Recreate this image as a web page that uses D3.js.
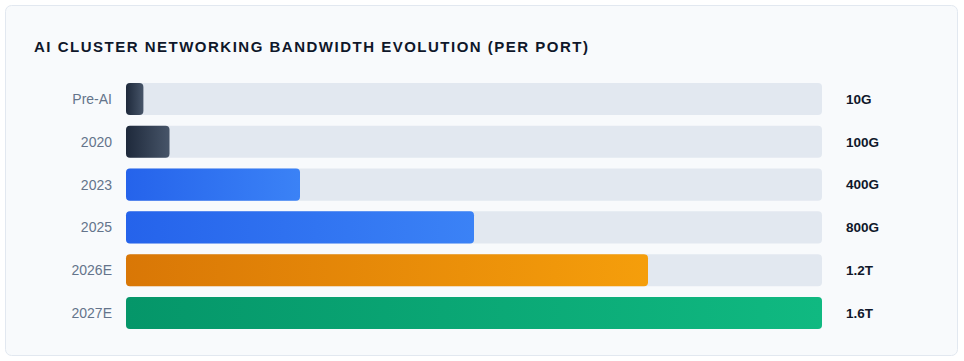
<!DOCTYPE html>
<meta charset="utf-8">
<style>
    body {
        margin: 0;
        background: #ffffff;
        font-family: "Liberation Sans", Arial, sans-serif;
    }
    svg {
        display: block;
    }
</style>

<body>
<div id="chart"></div>
<script src="https://cdnjs.cloudflare.com/ajax/libs/d3/7.8.5/d3.min.js"></script>
<script>
    // data
    var periods = ["Pre-AI", "2020", "2023", "2025", "2026E", "2027E"];
    var bandwidthGbps = [10, 100, 400, 800, 1200, 1600];
    var valueLabels = ["10G", "100G", "400G", "800G", "1.2T", "1.6T"];
    var colorGroups = ["slate", "slate", "blue", "blue", "amber", "green"];

    var palette = {
        slate: ["#1e293b", "#475569"],
        blue: ["#2563eb", "#3b82f6"],
        amber: ["#d97706", "#f59e0b"],
        green: ["#059669", "#10b981"]
    };

    var width = 964,
        height = 361;

    var svg = d3.select("#chart").append("svg")
        .attr("width", width)
        .attr("height", height);

    // gradients, one per colour group
    var defs = svg.append("defs");
    Object.keys(palette).forEach(function(k) {
        var g = defs.append("linearGradient")
            .attr("id", "grad-" + k)
            .attr("x1", "0%").attr("x2", "100%")
            .attr("y1", "0%").attr("y2", "0%");
        g.append("stop").attr("offset", "0%").attr("stop-color", palette[k][0]);
        g.append("stop").attr("offset", "100%").attr("stop-color", palette[k][1]);
    });

    // card
    svg.append("rect")
        .attr("x", 5.5).attr("y", 5.5)
        .attr("width", 952).attr("height", 350)
        .attr("rx", 6)
        .attr("fill", "#f8fafc")
        .attr("stroke", "#e2e8f0");

    svg.append("text")
        .attr("x", 34).attr("y", 52)
        .attr("fill", "#0f172a")
        .style("font-size", "15px")
        .style("font-weight", "700")
        .style("letter-spacing", "1.5px")
        .text("AI CLUSTER NETWORKING BANDWIDTH EVOLUTION (PER PORT)");

    var x = d3.scaleLinear()
        .domain([0, d3.max(bandwidthGbps)])
        .range([126, 822]);

    var y = d3.scaleBand()
        .domain(periods)
        .range([83, 329])
        .paddingInner(0.25);

    // keep tiny values visible
    var minVisible = 40;

    var rows = svg.selectAll("g.row")
        .data(periods.map(function(p, i) {
            return { period: p, value: bandwidthGbps[i], label: valueLabels[i], group: colorGroups[i] };
        }))
        .enter().append("g")
        .attr("class", "row");

    rows.append("rect")
        .attr("x", x(0))
        .attr("y", d => y(d.period))
        .attr("width", x.range()[1] - x(0))
        .attr("height", y.bandwidth())
        .attr("rx", 4)
        .attr("fill", "#e2e8f0");

    rows.append("rect")
        .attr("x", x(0))
        .attr("y", d => y(d.period))
        .attr("width", d => x(Math.max(d.value, minVisible)) - x(0))
        .attr("height", y.bandwidth())
        .attr("rx", 4)
        .attr("fill", d => "url(#grad-" + d.group + ")");

    rows.append("text")
        .attr("x", 112)
        .attr("y", d => y(d.period) + y.bandwidth() / 2)
        .attr("dy", "0.35em")
        .attr("text-anchor", "end")
        .attr("fill", "#64748b")
        .style("font-size", "14px")
        .text(d => d.period);

    rows.append("text")
        .attr("x", 846)
        .attr("y", d => y(d.period) + y.bandwidth() / 2)
        .attr("dy", "0.35em")
        .attr("fill", "#0f172a")
        .style("font-size", "13.5px")
        .style("font-weight", "700")
        .text(d => d.label);
</script>
</body>
